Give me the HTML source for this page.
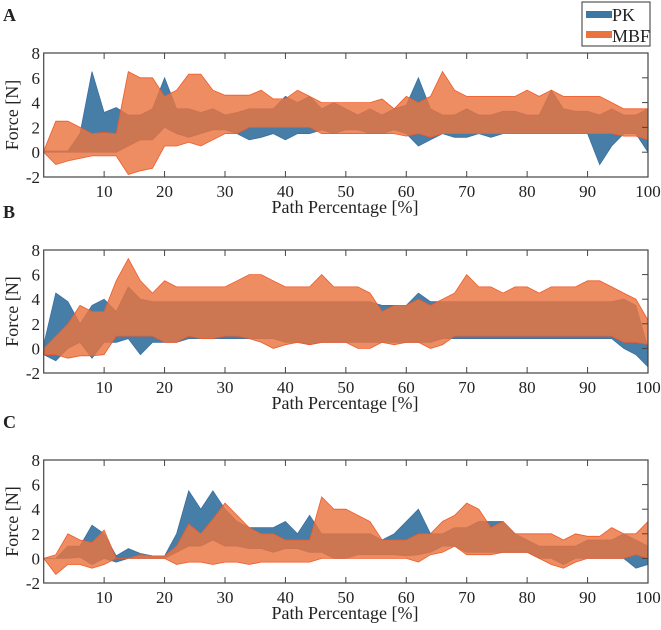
<!DOCTYPE html>
<html><head><meta charset="utf-8"><style>
body{margin:0;background:#fff}
svg{display:block}
text{font-family:"Liberation Serif",serif;fill:#222}
</style></head><body>
<svg id="c" width="661" height="630"></svg>
<script>
const xs=[0,2,4,6,8,10,12,14,16,18,20,22,24,26,28,30,32,34,36,38,40,42,44,46,48,50,52,54,56,58,60,62,64,66,68,70,72,74,76,78,80,82,84,86,88,90,92,94,96,98,100];
const xTicks=[10,20,30,40,50,60,70,80,90,100];
const yTicks=[-2,0,2,4,6,8];
const panelLabels=["A","B","C"];
const aPkUp=[0.1,0.1,0.1,1.5,6.5,3.2,3.6,3,3,3.5,6,3.5,3.5,3.2,3.5,3,3.2,3.5,3.5,3.5,4.5,4,4.5,3.5,4,3.5,3,3.5,3,3.5,3.8,6,3.5,3,3,3.5,3,3,3.3,3.3,3,3,5,3.5,3.3,3.3,3,3.5,3,3,3.5];
const aPkLo=[0,0,0,0,0,0,0,0.5,1,1,2,1.5,1.2,1.5,1.8,1.8,1.5,1,1.2,1.5,1,1.5,1.5,1.8,1.5,1.8,1.8,1.5,1.5,1.8,1.5,0.5,1,1.5,1.2,1.2,1.5,1.2,1.5,1.5,1.5,1.5,1.5,1.5,1.5,1.5,-1,0.5,1.5,1.5,0];
const aMbUp=[0.1,2.5,2.5,2,1.5,1.6,1.5,6.5,6,6,4.5,5,6.3,6.3,5,4.6,4.6,4.6,5,4.3,4.3,5,4.5,4,4,4,4,4,4.3,3.5,4.5,4,4.5,6.5,5,4.5,4.5,4.5,4.5,4.5,5,4.5,5,4.5,4.5,4.5,4.5,4,3.5,3.5,3.5];
const aMbLo=[0,-1,-0.7,-0.5,-0.3,-0.3,-0.3,-1.8,-1.5,-1.3,0.5,0.5,0.8,0.5,1,1.5,1.5,2,2,2,2,2,2,1.5,1.5,1.5,1.5,1.5,1.5,1.5,1.3,1.5,1.2,1.5,1.5,1.5,1.5,1.5,1.5,1.5,1.5,1.5,1.5,1.5,1.5,1.5,1.5,1.5,1.3,1.3,1];
const bPkUp=[0.3,4.5,3.8,2,3.5,4,3,5,4,3.8,3.8,3.8,3.8,3.8,3.8,3.8,3.8,3.8,3.8,3.8,3.8,3.8,3.8,3.8,3.8,3.8,3.8,3.8,3.5,3.5,3.5,4.5,3.8,3.8,3.8,3.8,3.8,3.8,3.8,3.8,3.8,3.8,3.8,3.8,3.8,3.8,3.8,3.8,4,3.5,0];
const bPkLo=[-0.5,-1,0,0.5,-0.8,0.5,0.5,0.8,-0.5,0.5,0.5,0.5,0.8,0.8,0.8,0.8,0.8,0.8,0.8,0.8,0.5,0.5,0.3,0.5,0.5,0.5,0.5,0.5,0.5,0.5,0.5,0.5,0.5,0.8,0.8,0.8,0.8,0.8,0.8,0.8,0.8,0.8,0.8,0.8,0.8,0.8,0.8,0.8,0,-0.5,-1.5];
const bMbUp=[0,1,2,3.5,3,3,5.5,7.3,5.5,4.5,5.5,5,5,5,5,5,5.5,6,6,5.5,5,5,5,6,5,5,5,4.5,3,3.5,3.5,4,3.5,4,4.5,6,5,5,4.5,5,5,4.5,5,5,5,5.5,5.5,5,4.5,4,2.3];
const bMbLo=[-0.5,-0.5,-0.8,-0.6,-0.6,-0.5,1,1,1,1,0.5,0.5,1,0.8,0.8,1,1,0.8,0.5,0,0.3,0.5,0.3,0.5,0.5,0.5,0,0,0.5,0.3,0.5,0.5,0,0.3,1,1,1,1,1,1,1,1,1,1,1,1,1,1,0.5,0.5,0.3];
const cPkUp=[0,0,1,1,2.7,2,0.2,0.8,0.4,0.2,0.2,2,5.5,4,5.5,4,3,2.5,2.5,2.5,3,2,3.5,2,2,2,2,2,1.5,2,3,4,2,2,2.5,2.5,3,3,3,2,1.5,1,1,1,1,1.5,1.5,1.5,2,1.5,1];
const cPkLo=[0,0,0,0.1,-0.5,0,-0.3,0,0,0,0,0.5,1,1,1.5,1,1,0.8,0.8,0.5,0.8,0.8,0.5,0.5,0,0,0.3,0.3,0.3,0.3,0.2,0.3,0.5,1,1,0.5,0.5,0.5,0.5,0.5,0.5,0,0,-0.5,0,0,0,0,0,-0.8,-0.5];
const cMbUp=[0,0.3,2,1.5,1.3,2.3,0,0,0.3,0.2,0.2,1,2.8,2,3.2,4.5,3.5,2.5,2,2,1.5,1.5,1.5,5,4,4,3.5,3,1.5,1.5,1.5,2,2,3,3.5,4.5,4,2.5,3,2,2,2,2,1.5,2,1.8,1.8,2.5,2,2,3];
const cMbLo=[0,-1.3,-0.5,-0.5,-0.8,-0.5,0,0,0,0,0,-0.5,-0.3,-0.3,-0.5,-0.3,-0.3,-0.5,-0.3,-0.3,-0.3,-0.3,-0.3,0,0,0,0,0,0,0,0,-0.3,0.3,0.5,1,0.3,0.3,0.3,0.5,0.5,0.5,0,-0.5,-0.8,-0.3,0,0,0,0,0.3,0];
const panels=[
 {top:53,bot:177,pu:aPkUp,pl:aPkLo,mu:aMbUp,ml:aMbLo},
 {top:250,bot:373,pu:bPkUp,pl:bPkLo,mu:bMbUp,ml:bMbLo},
 {top:460,bot:583,pu:cPkUp,pl:cPkLo,mu:cMbUp,ml:cMbLo}];
const NS="http://www.w3.org/2000/svg";
const svg=document.getElementById('c');
function mk(t,a,p){const e=document.createElementNS(NS,t);for(const k in a)e.setAttribute(k,a[k]);(p||svg).appendChild(e);return e;}
const L=43.7,R=648;
const X=v=>L+(R-L)*v/100;
panels.forEach((p,i)=>{
 const Y=v=>p.bot-(p.bot-p.top)*(v+2)/10;
 const g=mk('g',{});
 
 
 const lab=mk('text',{x:3,y:p.top-32,'font-family':'Liberation Sans','font-weight':'bold','font-size':18},g);
 lab.textContent=panelLabels[i];
 
 
 function band(up,lo,fill,op,stroke,name){
  let d='M'+xs.map((x,j)=>X(x).toFixed(1)+','+Y(up[j]).toFixed(1)).join('L');
  d+='L'+xs.slice().reverse().map((x,j)=>X(x).toFixed(1)+','+Y(lo[xs.length-1-j]).toFixed(1)).join('L')+'Z';
  const e=mk('path',{d:d,fill:fill,'fill-opacity':op,stroke:stroke,'stroke-width':0.8},g);
  
  
 }
 band(p.pu,p.pl,'#3d77a3',0.95,'#3a6fa0','pk-band');
 band(p.mu,p.ml,'#ea7440',0.82,'#f05a28','mbf-band');
 const fr=mk('rect',{x:L,y:p.top,width:R-L,height:p.bot-p.top,fill:'none',stroke:'#444','stroke-width':1.2},g);
 
 
 xTicks.forEach(t=>{
  if(t<100){mk('line',{x1:X(t),x2:X(t),y1:p.top,y2:p.top+6,stroke:'#444'},g);
  mk('line',{x1:X(t),x2:X(t),y1:p.bot,y2:p.bot-6,stroke:'#444'},g);}
  const tx=mk('text',{x:X(t),y:p.bot+20,'font-size':17,'text-anchor':'middle'},g);
  tx.textContent=t;
  
  
 });
 yTicks.forEach(t=>{
  if(t>-2&&t<8){mk('line',{x1:R,x2:R-6,y1:Y(t),y2:Y(t),stroke:'#444'},g);}
  const ty=mk('text',{x:40,y:Y(t)+6,'font-size':17,'text-anchor':'end'},g);
  ty.textContent=t;
  
  
 });
 const yt=mk('text',{x:0,y:0,'font-size':18,'text-anchor':'middle',transform:`translate(18,${(p.top+p.bot)/2}) rotate(-90)`},g);
 yt.textContent='Force [N]';
 
 
 const xt=mk('text',{x:345,y:p.bot+36,'font-size':18,'text-anchor':'middle'},g);
 xt.textContent='Path Percentage [%]';
 
 
});
</script>
<svg style="position:absolute;left:0;top:0" width="661" height="60">
<rect x="582" y="2" width="68" height="44" fill="#fff" stroke="#333" stroke-width="1"/>
<rect x="586" y="11" width="26" height="7" fill="#3d77a3"/>
<text x="612" y="21" font-size="18" font-family="Liberation Serif">PK</text>
<rect x="586" y="31" width="26" height="7" fill="#ea7440"/>
<text x="612" y="42" font-size="18" font-family="Liberation Serif">MBF</text>
</svg>
</body></html>
